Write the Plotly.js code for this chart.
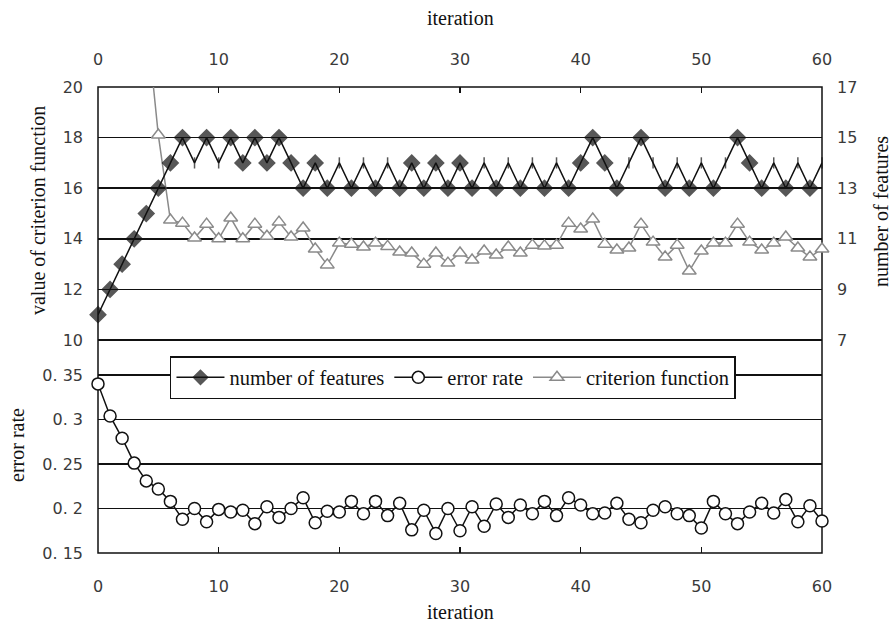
<!DOCTYPE html>
<html>
<head>
<meta charset="utf-8">
<script src="https://cdn.plot.ly/plotly-3.0.1.min.js"></script>
<style>html,body{margin:0;padding:0;background:#fff;}#chart{width:891px;height:628px;}</style>
</head>
<body>
<div id="chart"></div>
<script>
// ---- data ----
const iterations = Array.from({length: 61}, (_, i) => i);

const numberOfFeatures = [8, 9, 10, 11, 12, 13, 14, 15, 14, 15, 14, 15, 14, 15, 14, 15, 14, 13, 14, 13,
  14, 13, 14, 13, 14, 13, 14, 13, 14, 13, 14, 13, 14, 13, 14, 13, 14, 13, 14, 13,
  14, 15, 14, 13, 14, 15, 14, 13, 14, 13, 14, 13, 14, 15, 14, 13, 14, 13, 14, 13, 14];

const errorRate = [0.340, 0.304, 0.279, 0.251, 0.231, 0.222, 0.208, 0.188, 0.200, 0.185,
  0.199, 0.196, 0.198, 0.183, 0.202, 0.190, 0.200, 0.212, 0.184, 0.197,
  0.196, 0.208, 0.194, 0.208, 0.192, 0.206, 0.176, 0.198, 0.172, 0.200,
  0.175, 0.202, 0.180, 0.205, 0.190, 0.204, 0.194, 0.208, 0.192, 0.212,
  0.204, 0.194, 0.195, 0.206, 0.188, 0.184, 0.198, 0.202, 0.194, 0.192,
  0.178, 0.208, 0.194, 0.183, 0.196, 0.206, 0.195, 0.210, 0.185, 0.203, 0.186];

const criterionFunction = [null, null, null, null, 22.8, 18.1, 14.74, 14.62, 14.03, 14.58,
  14.0, 14.82, 14.0, 14.58, 14.1, 14.66, 14.07, 14.43, 13.6, 12.97,
  13.83, 13.79, 13.68, 13.83, 13.7, 13.48, 13.44, 13.0, 13.44, 13.04,
  13.44, 13.16, 13.52, 13.36, 13.68, 13.44, 13.75, 13.72, 13.75, 14.62,
  14.39, 14.78, 13.79, 13.56, 13.64, 14.58, 13.87, 13.28, 13.75, 12.73,
  13.52, 13.83, 13.83, 14.58, 13.87, 13.56, 13.83, 14.07, 13.64, 13.28, 13.6];

const xTicks = [0, 10, 20, 30, 40, 50, 60];
const criterionTicks = [10, 12, 14, 16, 18, 20];
const featureTicks = [7, 9, 11, 13, 15, 17];
const errorTicks = [0.15, 0.2, 0.25, 0.3, 0.35];
const errorTickText = ['0. 15', '0. 2', '0. 25', '0. 3', '0. 35'];

// style: iterations where the diamond marker is not visible in the reference (only a thin tick)
const thinMarkerAt = [8, 10, 20, 22, 24, 32, 34, 36, 38, 44, 46, 48, 50, 52, 56, 58, 60];
const nfSymbols = iterations.map(i => thinMarkerAt.includes(i) ? 'line-ns' : 'diamond');
const nfSizes = iterations.map(i => thinMarkerAt.includes(i) ? 8 : 12);

// ---- layout helpers ----
const tickFont = {family: 'DejaVu Sans', size: 16, color: '#3a3a3a'};
const titleFont = {family: 'Liberation Serif', size: 20, color: '#111'};

const traces = [
  {
    name: 'criterion function', x: iterations, y: criterionFunction,
    xaxis: 'x', yaxis: 'y', mode: 'lines+markers', legendrank: 3,
    line: {color: '#8a8a8a', width: 1.5},
    marker: {symbol: 'triangle-up', size: 12, color: '#fff', line: {color: '#8a8a8a', width: 1.5}},
    cliponaxis: false
  },
  {
    name: 'number of features', x: iterations, y: numberOfFeatures,
    xaxis: 'x2', yaxis: 'y2', mode: 'lines+markers', legendrank: 1,
    line: {color: '#111', width: 1.5},
    marker: {symbol: nfSymbols, size: nfSizes, color: '#111', line: {color: '#111', width: 1.5}},
    cliponaxis: false
  },
  {
    name: 'error rate', x: iterations, y: errorRate,
    xaxis: 'x', yaxis: 'y3', mode: 'lines+markers', legendrank: 2,
    line: {color: '#111', width: 1.5},
    marker: {symbol: 'circle', size: 12, color: '#fff', line: {color: '#111', width: 1.5}},
    cliponaxis: false
  }
];

const layout = {
  width: 891, height: 628,
  margin: {l: 98, r: 69, t: 87, b: 75},
  paper_bgcolor: '#fff', plot_bgcolor: '#fff',
  showlegend: true,
  legend: {
    orientation: 'h', x: 0.0994, y: 0.4227, xanchor: 'left', yanchor: 'top',
    bgcolor: '#fff', bordercolor: '#111', borderwidth: 1.5,
    font: {family: 'Liberation Serif', size: 20.5, color: '#111'},
    traceorder: 'normal', itemwidth: 48
  },
  xaxis: {
    anchor: 'y3', range: [0, 60], tickvals: xTicks, ticks: 'inside', ticklen: 6,
    tickcolor: '#111', tickwidth: 1.5, showgrid: false, zeroline: false, showline: false,
    tickfont: tickFont, ticklabelstandoff: 22
  },
  xaxis2: {
    overlaying: 'x', side: 'top', anchor: 'y2', range: [0, 60], tickvals: xTicks,
    ticks: 'inside', ticklen: 6, tickcolor: '#111', tickwidth: 1.5,
    showgrid: false, zeroline: false, showline: false, tickfont: tickFont, ticklabelstandoff: 18
  },
  yaxis: {
    domain: [0.4532, 1], range: [9.93, 20], tickvals: criterionTicks,
    showgrid: true, gridcolor: '#111', gridwidth: 1.5, zeroline: false, showline: false,
    ticks: '', tickfont: tickFont, ticklabelstandoff: 14
  },
  yaxis2: {
    overlaying: 'y', side: 'right', anchor: 'x2', range: [6.93, 17], tickvals: featureTicks,
    showgrid: false, zeroline: false, showline: false, ticks: '', tickfont: tickFont,
    ticklabelstandoff: 14
  },
  yaxis3: {
    domain: [0, 0.3858], range: [0.15, 0.352], tickvals: errorTicks, ticktext: errorTickText,
    showgrid: true, gridcolor: '#111', gridwidth: 1.5, zeroline: false, showline: false,
    ticks: '', tickfont: tickFont, ticklabelstandoff: 14
  },
  shapes: [
    {type: 'rect', xref: 'paper', yref: 'paper', x0: 0, x1: 1, y0: 0, y1: 1,
     line: {color: '#111', width: 1.5}, layer: 'below'}
  ],
  annotations: [
    {text: 'iteration', xref: 'paper', yref: 'paper', x: 0.5, y: 1.148, showarrow: false,
     xanchor: 'center', yanchor: 'middle', font: titleFont},
    {text: 'iteration', xref: 'paper', yref: 'paper', x: 0.5, y: -0.1266, showarrow: false,
     xanchor: 'center', yanchor: 'middle', font: titleFont},
    {text: 'value of criterion function', xref: 'paper', yref: 'paper', x: -0.0829, y: 0.736,
     textangle: -90, showarrow: false, xanchor: 'center', yanchor: 'middle', font: titleFont},
    {text: 'error rate', xref: 'paper', yref: 'paper', x: -0.1119, y: 0.2318,
     textangle: -90, showarrow: false, xanchor: 'center', yanchor: 'middle', font: titleFont},
    {text: 'number of features', xref: 'paper', yref: 'paper', x: 1.0815, y: 0.7318,
     textangle: -90, showarrow: false, xanchor: 'center', yanchor: 'middle', font: titleFont}
  ]
};

Plotly.newPlot('chart', traces, layout, {displayModeBar: false, staticPlot: true});
</script>
</body>
</html>
